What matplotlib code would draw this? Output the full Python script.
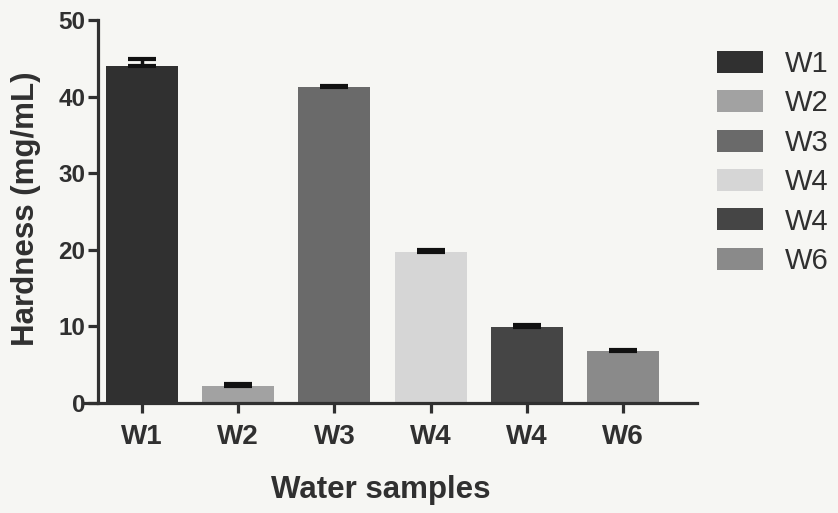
import numpy as np
import matplotlib.pyplot as plt

# data
samples = ["W1", "W2", "W3", "W4", "W4", "W6"]
hardness = [44.0, 2.2, 41.2, 19.7, 9.9, 6.8]
errors = [0.9, 0.3, 0.2, 0.3, 0.3, 0.1]
colors = ["#303030", "#a2a2a2", "#6a6a6a", "#d6d6d6", "#454545", "#8a8a8a"]

ink = "#303030"
bg = "#f6f6f3"

plt.rcParams['font.family'] = ['Liberation Sans', 'DejaVu Sans']

fig = plt.figure(figsize=(8.38, 5.13), dpi=100, facecolor=bg)
ax = fig.add_axes([85 / 838, 1 - 403 / 513, (697 - 85) / 838, (403 - 20) / 513])
ax.set_facecolor(bg)

x = np.arange(len(samples))
bars = ax.bar(x, hardness, width=0.75, color=colors, label=samples, zorder=2)

# only the upper half of the error bars, as in the Prism output
ax.errorbar(x, hardness, yerr=[np.zeros(len(errors)), errors], fmt="none",
            ecolor="#111111", elinewidth=2.5, capsize=10, capthick=3, zorder=3)

ax.set_xlim(-0.593, 5.77)
ax.set_ylim(0, 50)
ax.set_yticks([0, 10, 20, 30, 40, 50])
ax.set_xticks(x)
ax.set_xticklabels(samples)

for s in ["top", "right"]:
    ax.spines[s].set_visible(False)
ax.spines["left"].set_position(("data", -0.457))
for s in ["left", "bottom"]:
    ax.spines[s].set_linewidth(2.3)
    ax.spines[s].set_color(ink)

ax.tick_params(axis="both", direction="out", length=7, width=2.3, color=ink,
               labelcolor=ink)
ax.tick_params(axis="y", labelsize=17.5, pad=2)
ax.tick_params(axis="x", labelsize=20, pad=8)
for lab in ax.get_xticklabels() + ax.get_yticklabels():
    lab.set_fontweight("bold")

ax.set_xlabel("Water samples", fontsize=22.5, fontweight="bold", color=ink)
ax.xaxis.set_label_coords(0.484, -0.188)
ax.set_ylabel("Hardness (mg/mL)", fontsize=22.5, fontweight="bold", color=ink)
ax.yaxis.set_label_coords(-0.072, 0.506)

leg = ax.legend(handles=bars, labels=samples, loc="upper left",
                bbox_to_anchor=(717 / 838, 1 - 50 / 513), bbox_transform=fig.transFigure,
                frameon=False, fontsize=21, handlelength=1.58, handleheight=0.79,
                labelspacing=0.39, handletextpad=0.76, borderaxespad=0, borderpad=0)
for t in leg.get_texts():
    t.set_color(ink)

fig.savefig("out.png", dpi=100, facecolor=bg)
